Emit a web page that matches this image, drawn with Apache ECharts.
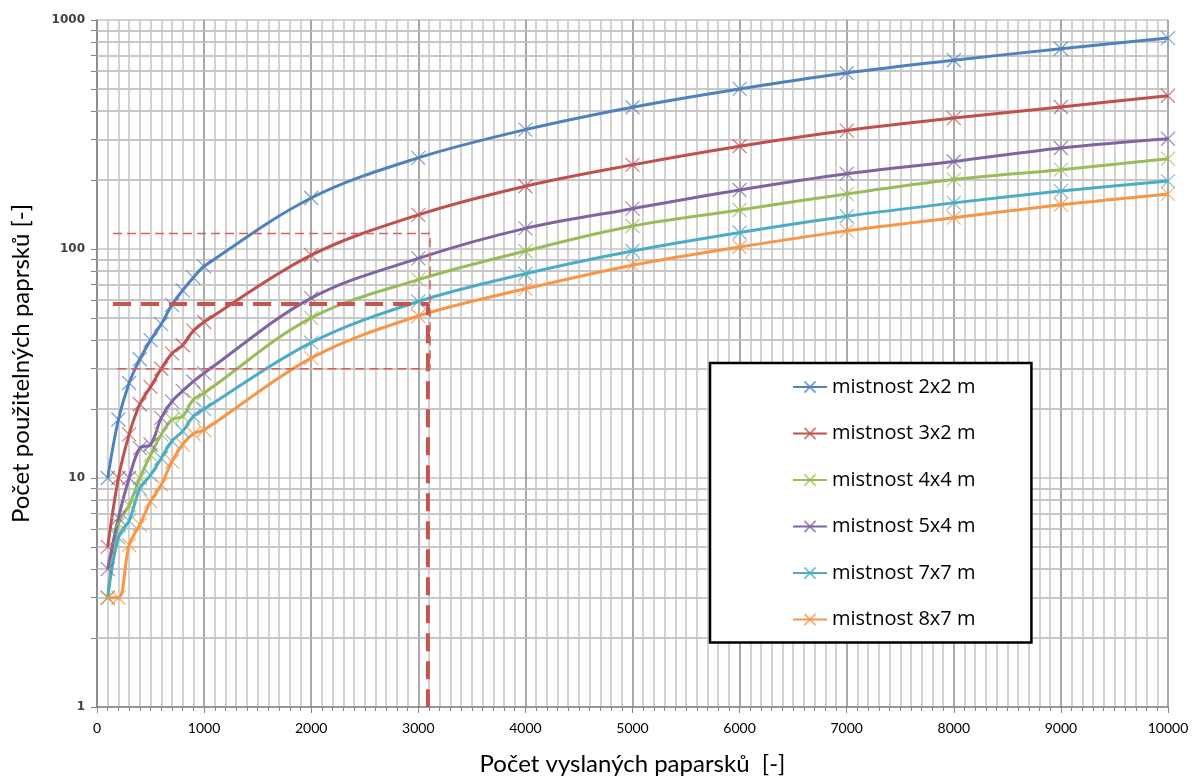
<!DOCTYPE html>
<html>
<head>
<meta charset="utf-8">
<script src="https://cdn.jsdelivr.net/npm/echarts@6/dist/echarts.min.js"></script>
<style>
  html, body { margin: 0; padding: 0; background: #fff; }
  #chart { width: 1200px; height: 781px; }
</style>
</head>
<body>
<div id="chart"></div>
<script>
// pocet vyslanych paprsku (osa x)
const xValues = [100, 200, 300, 400, 500, 600, 700, 800, 900, 1000,
  2000, 3000, 4000, 5000, 6000, 7000, 8000, 9000, 10000]

// pocet pouzitelnych paprsku pro jednotlive mistnosti
const room2x2 = [10, 18, 26, 33, 40, 47, 57, 66, 75, 84, 167, 250, 332, 416, 500, 587, 667, 749, 834]
const room3x2 = [5, 10, 15.5, 21, 25, 30, 35, 38, 44, 48, 94, 141, 188, 233, 281, 329, 373, 417, 467]
const room4x4 = [3, 6.3, 7.6, 10, 12.6, 15.5, 18, 18.6, 22, 23.5, 50, 73.5, 98, 126, 148, 174, 201, 222, 248]
const room5x4 = [4, 6.7, 10, 13.5, 14, 18.3, 21.6, 24, 26.4, 28.7, 61, 91, 123, 150, 181, 213, 241, 276, 303]
const room7x7 = [3, 5.5, 6.5, 9, 10.3, 12.2, 14.5, 16, 18.6, 20, 39, 59, 78, 98, 118, 139, 159, 179, 198]
const room8x7 = [3, 3, 5.1, 6.25, 7.9, 9.35, 11.8, 14, 15.6, 16.2, 33.4, 51, 67, 85, 102, 120, 137, 156, 174]

const seriesNames = ['mistnost 2x2 m', 'mistnost 3x2 m', 'mistnost 4x4 m',
  'mistnost 5x4 m', 'mistnost 7x7 m', 'mistnost 8x7 m']

// odecitaci cary (carkovane)
const guideThick = [[150, 57.5], [3090, 57.5], [3090, 1]]
const guideThin = [[150, 117], [3110, 117], [3110, 30], [150, 30]]

// vedlejsi hodnoty log osy
const yMinor = [2, 3, 4, 5, 6, 7, 8, 9, 20, 30, 40, 50, 60, 70, 80, 90,
  200, 300, 400, 500, 600, 700, 800, 900]
const yTicks = [1, 2, 3, 4, 5, 6, 7, 8, 9, 10, 20, 30, 40, 50, 60, 70, 80, 90,
  100, 200, 300, 400, 500, 600, 700, 800, 900, 1000]

const colors = ['#4F81BD', '#C0504D', '#9BBB59', '#8064A2', '#4BACC6', '#F79646']
const crossSymbol = 'path://M0,0L10,10M10,0L0,10'

function pairs(ys) {
  return xValues.map((x, i) => [x, ys[i]])
}

const chart = echarts.init(document.getElementById('chart'))

const roomData = [room2x2, room3x2, room4x4, room5x4, room7x7, room8x7]
const series = [{
  name: 'grid',
  type: 'line',
  data: [],
  z: 1,
  silent: true,
  markLine: {
    silent: true,
    z: 1,
    symbol: 'none',
    animation: false,
    label: { show: false },
    lineStyle: { color: '#c4c4c4', width: 1.5, type: 'solid' },
    data: yMinor.map(v => ({ yAxis: v }))
  }
}]

roomData.forEach((ys, i) => {
  series.push({
    name: seriesNames[i],
    type: 'line',
    data: pairs(ys),
    smooth: 0.35,
    z: 3,
    symbol: crossSymbol,
    symbolSize: 14,
    color: colors[i],
    lineStyle: { width: 3, color: colors[i] },
    itemStyle: { color: colors[i], borderColor: colors[i], borderWidth: 1.2, opacity: 0.75 }
  })
})

series.push({
  name: 'guideThick',
  type: 'line',
  data: guideThick,
  symbol: 'none',
  z: 4,
  lineStyle: { color: '#C9534F', width: 4, type: [18, 10] }
})
series.push({
  name: 'guideThin',
  type: 'line',
  data: guideThin,
  symbol: 'none',
  z: 4,
  lineStyle: { color: '#D9605C', width: 1.5, type: [9, 5] }
})

chart.setOption({
  animation: false,
  grid: { left: 97, right: 32, top: 20, bottom: 72 },
  legend: {
    data: seriesNames,
    orient: 'vertical',
    left: 710,
    top: 363,
    z: 10,
    itemWidth: 34,
    itemHeight: 14,
    itemGap: 26.5,
    padding: [14, 56, 13, 82],
    borderColor: '#000',
    borderWidth: 2.5,
    backgroundColor: '#fff',
    textStyle: { fontFamily: 'Open Sans', fontSize: 20, color: '#000' }
  },
  xAxis: {
    type: 'value',
    min: 0,
    max: 10000,
    interval: 1000,
    name: 'Počet vyslaných paparsků  [-]',
    nameLocation: 'middle',
    nameGap: 45,
    nameTextStyle: { fontFamily: 'Lato', fontSize: 24, color: '#000' },
    axisLine: { lineStyle: { color: '#868686', width: 1.5 } },
    axisTick: { length: 6, lineStyle: { color: '#868686' } },
    minorTick: { show: true, splitNumber: 10, length: 4, lineStyle: { color: '#868686' } },
    axisLabel: { fontFamily: 'Lato', fontSize: 14, color: '#000', margin: 14, formatter: v => String(v) },
    splitLine: { show: true, lineStyle: { color: '#8c8c8c', width: 1.5 } },
    minorSplitLine: { show: true, lineStyle: { color: '#c4c4c4', width: 1.5 } }
  },
  yAxis: {
    type: 'log',
    logBase: 10,
    min: 1,
    max: 1000,
    name: 'Počet použitelných paprsků [-]',
    nameLocation: 'middle',
    nameGap: 64,
    nameTextStyle: { fontFamily: 'Lato', fontSize: 24, color: '#000' },
    axisLine: { show: true, lineStyle: { color: '#868686', width: 1.5 } },
    axisTick: { show: true, length: 6, customValues: yTicks, lineStyle: { color: '#868686' } },
    axisLabel: { fontFamily: 'Verdana, DejaVu Sans', fontSize: 12, fontWeight: 'bold', color: '#404040', margin: 12, formatter: v => String(v) },
    splitLine: { show: true, lineStyle: { color: '#c4c4c4', width: 1.5 } }
  },
  series: series
})
</script>
</body>
</html>
